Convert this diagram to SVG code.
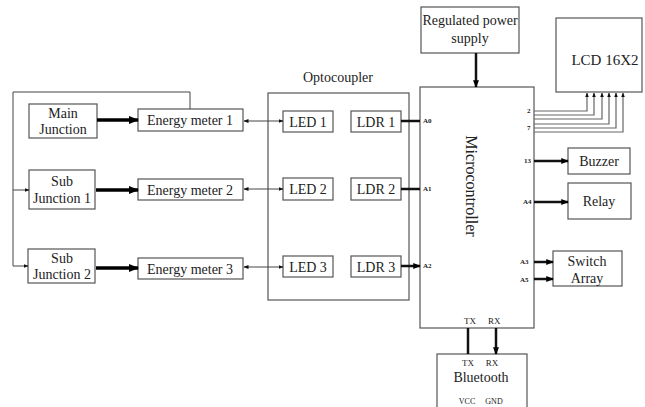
<svg xmlns="http://www.w3.org/2000/svg" width="645" height="407" viewBox="0 0 645 407">
<defs>
<style>
.box{fill:#fff;stroke:#555;stroke-width:1.2}
.t{font-family:"Liberation Serif","Times New Roman",serif;font-size:14px;fill:#222;text-anchor:middle}
.s{font-family:"Liberation Serif","Times New Roman",serif;font-size:7px;fill:#222;font-weight:bold}
.thin{stroke:#444;stroke-width:1;fill:none}
.thick{stroke:#000;stroke-width:3.5;fill:none}
.med{stroke:#111;stroke-width:2.5;fill:none}
.wire{stroke:#666;stroke-width:1.2;fill:none}
</style>
<marker id="ah" viewBox="0 0 10 10" refX="9" refY="5" markerWidth="5" markerHeight="5" orient="auto-start-reverse"><path d="M0,1 L10,5 L0,9 z" fill="#111"/></marker>
<marker id="ahb" viewBox="0 0 10 10" refX="9" refY="5" markerWidth="3" markerHeight="3" orient="auto"><path d="M0,1 L10,5 L0,9 z" fill="#000"/></marker>
<marker id="ahs" viewBox="0 0 10 10" refX="9" refY="5" markerWidth="4" markerHeight="4" orient="auto"><path d="M0,1 L10,5 L0,9 z" fill="#111"/></marker>
</defs>
<rect width="645" height="407" fill="#fff"/>

<g id="main-junction"><rect class="box" x="29" y="104" width="68" height="34"/><text class="t" x="63" y="118">Main</text><text class="t" x="63" y="134">Junction</text></g>
<g id="sub-junction-1"><rect class="box" x="29" y="170" width="66" height="39"/><text class="t" x="62" y="186">Sub</text><text class="t" x="62" y="203">Junction 1</text></g>
<g id="sub-junction-2"><rect class="box" x="28" y="249" width="67" height="34"/><text class="t" x="62" y="263">Sub</text><text class="t" x="62" y="279">Junction 2</text></g>
<g id="energy-meter-1"><rect class="box" x="138" y="109" width="105" height="22"/><text class="t" x="190" y="125">Energy meter 1</text></g>
<g id="energy-meter-2"><rect class="box" x="138" y="179" width="105" height="21"/><text class="t" x="190" y="195">Energy meter 2</text></g>
<g id="energy-meter-3"><rect class="box" x="138" y="258" width="105" height="21"/><text class="t" x="190" y="274">Energy meter 3</text></g>

<g id="optocoupler"><rect class="box" x="268" y="93" width="141" height="207"/><text class="t" x="338" y="82">Optocoupler</text></g>
<g id="led-1"><rect class="box" x="283" y="111" width="50" height="21"/><text class="t" x="308" y="127">LED 1</text></g>
<g id="ldr-1"><rect class="box" x="351" y="111" width="50" height="21"/><text class="t" x="376" y="127">LDR 1</text></g>
<g id="led-2"><rect class="box" x="283" y="178" width="50" height="22"/><text class="t" x="308" y="194">LED 2</text></g>
<g id="ldr-2"><rect class="box" x="351" y="178" width="50" height="22"/><text class="t" x="376" y="194">LDR 2</text></g>
<g id="led-3"><rect class="box" x="283" y="256" width="50" height="21"/><text class="t" x="308" y="272">LED 3</text></g>
<g id="ldr-3"><rect class="box" x="351" y="256" width="50" height="21"/><text class="t" x="376" y="272">LDR 3</text></g>

<g id="microcontroller">
<rect class="box" x="420" y="87" width="114" height="241"/>
<text class="t" style="font-size:16px" transform="translate(466,186) rotate(90)">Microcontroller</text>
<text class="s" x="423" y="123">A0</text>
<text class="s" x="423" y="191">A1</text>
<text class="s" x="423" y="268">A2</text>
<text class="s" x="527" y="113">2</text>
<text class="s" x="527" y="130">7</text>
<text class="s" x="524" y="163">13</text>
<text class="s" x="523" y="204">A4</text>
<text class="s" x="520" y="264">A3</text>
<text class="s" x="520" y="282">A5</text>
<text class="s" style="font-weight:normal;font-size:9px" x="464" y="324">TX</text>
<text class="s" style="font-weight:normal;font-size:9px" x="488" y="324">RX</text>
</g>

<g id="power-supply"><rect class="box" x="421" y="7" width="98" height="46"/><text class="t" x="470" y="25">Regulated power</text><text class="t" x="470" y="43">supply</text></g>
<g id="lcd"><rect class="box" x="556" y="18" width="86" height="74"/><text class="t" x="605" y="65" style="font-size:15px">LCD 16X2</text></g>
<g id="buzzer"><rect class="box" x="568" y="148" width="62" height="26"/><text class="t" x="599" y="166">Buzzer</text></g>
<g id="relay"><rect class="box" x="568" y="183" width="63" height="36"/><text class="t" x="599" y="206">Relay</text></g>
<g id="switch-array"><rect class="box" x="553" y="251" width="69" height="35"/><text class="t" x="587" y="266">Switch</text><text class="t" x="587" y="283">Array</text></g>
<g id="bluetooth">
<rect class="box" x="437" y="354" width="90" height="60"/>
<text class="t" style="font-size:9px" x="468" y="366">TX</text>
<text class="t" style="font-size:9px" x="492" y="366">RX</text>
<text class="t" x="481" y="382">Bluetooth</text>
<text class="t" style="font-size:8px" x="467" y="404">VCC</text>
<text class="t" style="font-size:8px" x="494" y="404">GND</text>
</g>

<g id="connectors">
<path class="thin" d="M190,109 V92 H13 V266"/>
<path class="thin" d="M13,190 H29" marker-end="url(#ah)"/>
<path class="thin" d="M13,266 H28" marker-end="url(#ah)"/>
<path class="thick" d="M97,120 H138" marker-end="url(#ahb)"/>
<path class="thick" d="M96,190 H138" marker-end="url(#ahb)"/>
<path class="thick" d="M96,268 H138" marker-end="url(#ahb)"/>
<path class="thin" d="M244,121 H283" marker-start="url(#ah)" marker-end="url(#ah)"/>
<path class="thin" d="M244,189 H283" marker-start="url(#ah)" marker-end="url(#ah)"/>
<path class="thin" d="M244,267 H283" marker-start="url(#ah)" marker-end="url(#ah)"/>
<path class="med" d="M401,121 H420"/>
<path class="med" d="M401,189 H420"/>
<path class="med" d="M401,266 H420" marker-end="url(#ahb)"/>
<path class="med" d="M476,53 V87" marker-end="url(#ahb)"/>
<path class="wire" d="M534,111 H587 V93" marker-end="url(#ahs)"/>
<path class="wire" d="M534,115 H594 V93" marker-end="url(#ahs)"/>
<path class="wire" d="M534,119 H602 V93" marker-end="url(#ahs)"/>
<path class="wire" d="M534,124 H609 V93" marker-end="url(#ahs)"/>
<path class="wire" d="M534,128 H616 V93" marker-end="url(#ahs)"/>
<path class="wire" d="M534,132 H623 V93" marker-end="url(#ahs)"/>
<path class="med" d="M534,161 H568" marker-end="url(#ahb)"/>
<path class="med" d="M534,202 H568" marker-end="url(#ahb)"/>
<path class="med" d="M534,262 H553" marker-end="url(#ahb)"/>
<path class="med" d="M534,279 H553" marker-end="url(#ahb)"/>
<path class="med" d="M468,328 V354"/>
<path class="med" d="M496,328 V354" marker-end="url(#ahb)"/>
</g>
</svg>
